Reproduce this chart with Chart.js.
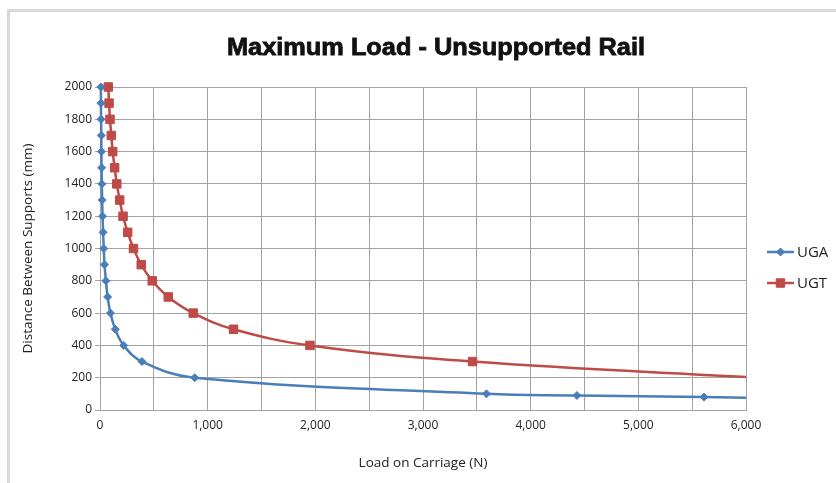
<!DOCTYPE html>
<html lang="en">

<head>
    <meta charset="UTF-8">
    <title>Maximum Load - Unsupported Rail</title>
    <script src="https://cdn.jsdelivr.net/npm/chart.js"></script>
    <style>
        body { margin: 0; background: #fff; }
        .marc {
            position: absolute; left: 7px; top: 9px; width: 840px; height: 480px;
            border-top: 3px solid #d9d9d9; border-left: 3px solid #d9d9d9;
        }
        canvas { position: absolute; left: 0; top: 0; }
    </style>
</head>

<body>
    <div class="marc"></div>
    <canvas id="railChart" width="836" height="483"></canvas>

    <script>
        // dades llegides del gràfic
        const ugaDistance = [2000, 1900, 1800, 1700, 1600, 1500, 1400, 1300, 1200, 1100, 1000, 900, 800, 700, 600, 500, 400, 300, 200, 100, 90, 80, 70];
        const ugaLoad = [8, 9, 10, 12, 13, 15, 17, 20, 24, 29, 35, 42, 55, 71, 97, 142, 220, 390, 880, 3590, 4430, 5610, 6400];

        const ugtDistance = [2000, 1900, 1800, 1700, 1600, 1500, 1400, 1300, 1200, 1100, 1000, 900, 800, 700, 600, 500, 400, 300, 200];
        const ugtLoad = [77, 84, 93, 105, 118, 136, 156, 183, 214, 257, 311, 383, 485, 634, 866, 1240, 1950, 3460, 6100];

        const seriesNames = ['UGA', 'UGT'];
        const seriesColors = ['#4a7ebb', '#be4b48'];
        const xTitle = 'Load on Carriage (N)';
        const yTitle = 'Distance Between Supports (mm)';
        const chartTitle = 'Maximum Load - Unsupported Rail';

        const toPoints = (xs, ys) => xs.map((v, i) => ({ x: v, y: ys[i] }));

        // titol i llegenda dibuixats a ma (posicio com l'original)
        const textPlugin = {
            id: 'textPlugin',
            afterDraw(chart) {
                const ctx = chart.ctx;
                ctx.save();
                ctx.font = 'bold 24px "Liberation Sans"';
                const w = ctx.measureText(chartTitle).width;
                ctx.translate(436, 55);
                ctx.scale(418 / w, 1);
                ctx.textAlign = 'center';
                ctx.textBaseline = 'alphabetic';
                ctx.fillStyle = '#111';
                ctx.strokeStyle = '#111';
                ctx.lineWidth = 0.8;
                ctx.fillText(chartTitle, 0, 0);
                ctx.strokeText(chartTitle, 0, 0);
                ctx.restore();

                const rows = [
                    { y: 252, style: 'rectRot', radius: 4 },
                    { y: 283, style: 'rect', radius: 6 }
                ];
                rows.forEach((r, i) => {
                    ctx.save();
                    ctx.strokeStyle = seriesColors[i];
                    ctx.fillStyle = seriesColors[i];
                    ctx.lineWidth = 2.5;
                    ctx.beginPath();
                    ctx.moveTo(767, r.y);
                    ctx.lineTo(794, r.y);
                    ctx.stroke();
                    ctx.lineWidth = 1;
                    Chart.helpers.drawPoint(ctx, { pointStyle: r.style, radius: r.radius, rotation: 0, borderWidth: 1 }, 780.5, r.y);
                    ctx.fillStyle = '#222';
                    ctx.font = '15px "Open Sans"';
                    ctx.textBaseline = 'middle';
                    ctx.fillText(seriesNames[i], 797, r.y + 1);
                    ctx.restore();
                });
            }
        };

        const gridGrey = '#a3a3a3';

        const ctx = document.getElementById('railChart').getContext('2d');
        const chart = new Chart(ctx, {
            type: 'scatter',
            data: {
                datasets: [{
                    label: seriesNames[0],
                    data: toPoints(ugaLoad, ugaDistance),
                    showLine: true,
                    tension: 0.4,
                    borderColor: seriesColors[0],
                    backgroundColor: seriesColors[0],
                    borderWidth: 2.5,
                    pointStyle: 'rectRot',
                    pointRadius: 4,
                    pointBorderWidth: 1,
                    clip: { left: 10, top: 10, right: 0, bottom: 0 }
                }, {
                    label: seriesNames[1],
                    data: toPoints(ugtLoad, ugtDistance),
                    showLine: true,
                    tension: 0.4,
                    borderColor: seriesColors[1],
                    backgroundColor: seriesColors[1],
                    borderWidth: 2.5,
                    pointStyle: 'rect',
                    pointRadius: 6,
                    pointBorderWidth: 1,
                    clip: { left: 10, top: 10, right: 0, bottom: 0 }
                }]
            },
            options: {
                responsive: false,
                animation: false,
                layout: { padding: { left: 8, right: 90, top: 87, bottom: 0 } },
                plugins: {
                    legend: { display: false },
                    title: { display: false },
                    tooltip: { enabled: false }
                },
                scales: {
                    x: {
                        type: 'linear',
                        min: 0,
                        max: 6000,
                        afterFit: (scale) => { scale.height = 73; },
                        ticks: {
                            stepSize: 500,
                            autoSkip: false,
                            maxRotation: 0,
                            padding: 8,
                            color: '#222',
                            font: { family: 'Open Sans', size: 12 },
                            callback: (v) => (v % 1000 === 0 ? v.toLocaleString('en-US') : '')
                        },
                        grid: { color: gridGrey, drawTicks: false },
                        border: { color: gridGrey },
                        title: {
                            display: true,
                            text: xTitle,
                            color: '#222',
                            font: { family: 'Open Sans', size: 13.5 },
                            padding: 12
                        }
                    },
                    y: {
                        min: 0,
                        max: 2000,
                        afterFit: (scale) => { scale.width = 92; },
                        ticks: {
                            stepSize: 200,
                            padding: 3,
                            color: '#222',
                            font: { family: 'Open Sans', size: 12 },
                            callback: (v) => String(v)
                        },
                        grid: { color: gridGrey, tickLength: 5 },
                        border: { color: gridGrey },
                        title: {
                            display: true,
                            text: yTitle,
                            color: '#222',
                            font: { family: 'Open Sans', size: 13.5 },
                            padding: 12
                        }
                    }
                }
            },
            plugins: [textPlugin]
        });
    </script>
</body>

</html>
